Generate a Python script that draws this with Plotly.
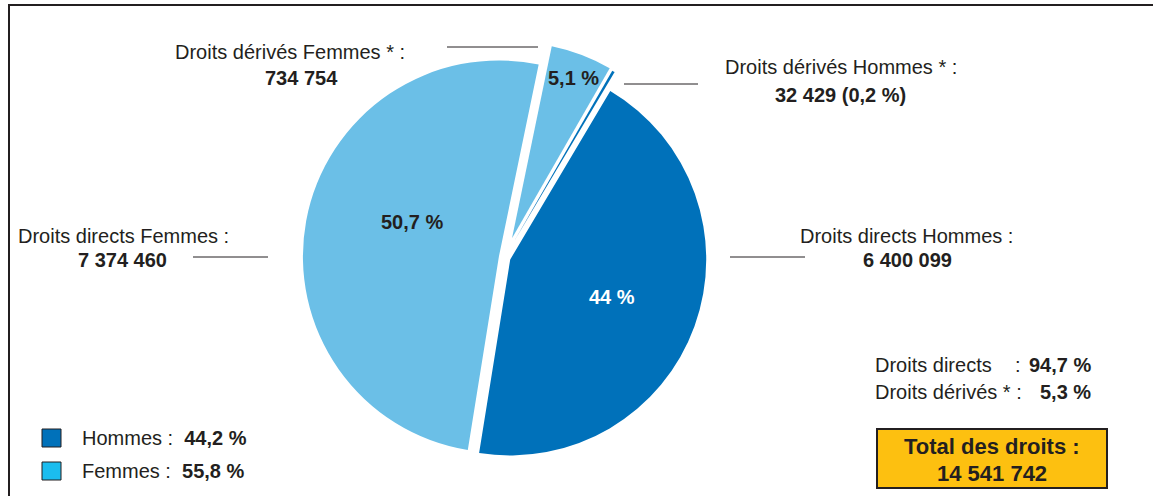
import plotly.graph_objects as go

W, H = 1153, 496

# slices, clockwise from the top
slice_names = ["Droits dérivés Femmes", "Droits dérivés Hommes",
               "Droits directs Hommes", "Droits directs Femmes"]
slice_values = [734754, 32429, 6400099, 7374460]
slice_colors = ["#6BBFE7", "#0071BA", "#0071BA", "#6BBFE7"]
slice_pull = [0.105, 0.1, 0.03, 0.03]
slice_text_colors = ["#231F20", "#FFFFFF", "#FFFFFF", "#231F20"]
# where the percentage sits inside each slice (None = not shown)
slice_text_pos = [(573, 78), None, (612, 297), (412, 222)]

TEXT = "#231F20"
FONT = "Liberation Sans, Arial, sans-serif"

total = sum(slice_values)


def fr_num(n):
    return f"{n:,}".replace(",", " ")


def fr_pct(v):
    s = f"{v:.1f}".replace(".", ",")
    if s.endswith(",0"):
        s = s[:-2]
    return s + " %"


pcts = [v / total * 100 for v in slice_values]
hommes_pct = pcts[1] + pcts[2]
femmes_pct = pcts[0] + pcts[3]
directs_pct = pcts[2] + pcts[3]
derives_pct = pcts[0] + pcts[1]


def px(x):
    return x / W


def py(y):
    return 1 - y / H


cx, cy, R = 504.7, 257.5, 196
half = R * (1 + max(slice_pull))

fig = go.Figure(go.Pie(
    labels=slice_names,
    values=slice_values,
    textinfo="none",
    marker=dict(colors=slice_colors, line=dict(width=0)),
    sort=False,
    direction="clockwise",
    rotation=11.7,
    pull=slice_pull,
    hoverinfo="skip",
    showlegend=False,
    domain=dict(x=[px(cx - half), px(cx + half)], y=[py(cy + half), py(cy - half)]),
))

ann = []
shapes = []


def label(x, y, txt, size=20, bold=False, anchor="center", color=TEXT):
    ann.append(dict(x=px(x), y=py(y), xref="paper", yref="paper",
                    text=f"<b>{txt}</b>" if bold else txt, showarrow=False,
                    xanchor=anchor, yanchor="middle",
                    font=dict(family=FONT, size=size, color=color)))


def hline(x0, x1, y):
    shapes.append(dict(type="line", xref="paper", yref="paper",
                       x0=px(x0), x1=px(x1), y0=py(y), y1=py(y),
                       line=dict(color=TEXT, width=1)))


# percentages inside the slices
for p, pos, col in zip(pcts, slice_text_pos, slice_text_colors):
    if pos:
        label(pos[0], pos[1], fr_pct(p), bold=True, color=col)

# callouts
label(290, 52, slice_names[0] + " * :")
label(301, 78, fr_num(slice_values[0]), bold=True)
hline(447, 538, 47)

label(841, 67, slice_names[1] + " * :")
label(840, 95, f"{fr_num(slice_values[1])} ({fr_pct(pcts[1])})", bold=True)
hline(624, 698, 84)

label(123, 236, slice_names[3] + " :")
label(122, 260, fr_num(slice_values[3]), bold=True)
hline(193, 268, 257)

label(906, 236, slice_names[2] + " :")
label(907, 260, fr_num(slice_values[2]), bold=True)
hline(730, 805, 257)

# right summary
label(873, 365, "Droits directs", anchor="left")
label(1013, 365, ":", anchor="left")
label(1093, 365, fr_pct(directs_pct), bold=True, anchor="right")
label(873, 392, "Droits dérivés * :", anchor="left")
label(1093, 392, fr_pct(derives_pct), bold=True, anchor="right")

shapes.append(dict(type="rect", xref="paper", yref="paper",
                   x0=px(877), x1=px(1107), y0=py(488), y1=py(429),
                   fillcolor="#FDC010", line=dict(color=TEXT, width=2)))
label(992, 446, "Total des droits :", size=22, bold=True)
label(992, 473, fr_num(total), size=22, bold=True)

# legend
for yy, col, name, p in [(438, "#0071BA", "Hommes", hommes_pct),
                         (471, "#1BBDEF", "Femmes", femmes_pct)]:
    shapes.append(dict(type="rect", xref="paper", yref="paper",
                       x0=px(42), x1=px(61), y0=py(yy + 9), y1=py(yy - 9),
                       fillcolor=col, line=dict(color=TEXT, width=1)))
    label(80, yy, f"{name} :  <b>{fr_pct(p)}</b>", anchor="left")

# frame
shapes.append(dict(type="rect", xref="paper", yref="paper",
                   x0=px(9), x1=1.05, y0=-0.05, y1=py(5),
                   line=dict(color=TEXT, width=2), fillcolor="rgba(0,0,0,0)"))

fig.update_layout(
    width=W, height=H,
    margin=dict(l=0, r=0, t=0, b=0),
    paper_bgcolor="white",
    plot_bgcolor="white",
    annotations=ann,
    shapes=shapes,
    font=dict(family=FONT, color=TEXT),
)

fig.write_html("out.html", config={"displayModeBar": False},
               post_script="document.body.style.margin='0';")
